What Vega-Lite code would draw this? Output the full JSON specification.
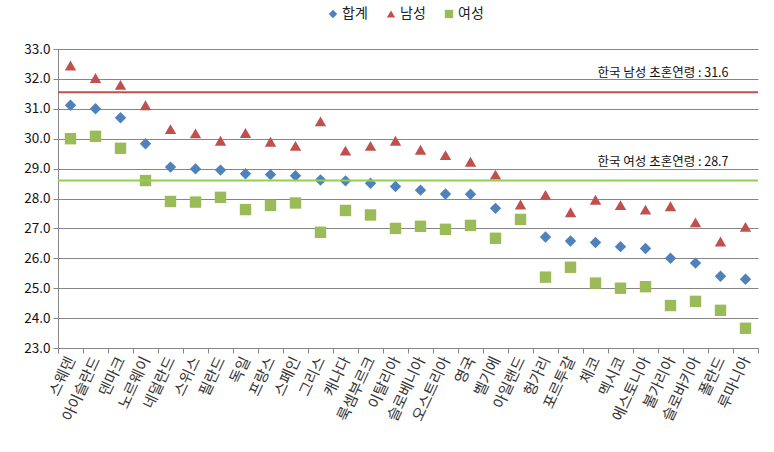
{
  "$schema": "https://vega.github.io/schema/vega-lite/v6.json",
  "width": 700,
  "height": 299,
  "autosize": "none",
  "padding": {"left": 58, "top": 49, "right": 16, "bottom": 104},
  "background": "white",
  "config": {
    "font": "Noto Sans CJK KR",
    "view": {"stroke": null},
    "axis": {"labelFont": "Noto Sans CJK KR", "labelColor": "#222", "domainColor": "#868686", "tickColor": "#868686", "gridColor": "#868686", "gridOpacity": 1}
  },
  "datasets": {
    "refs": [
      {"kind": "남성", "value": 31.55, "label": "한국 남성 초혼연령 : 31.6"},
      {"kind": "여성", "value": 28.6, "label": "한국 여성 초혼연령 : 28.7"}
    ]
  },
  "data": {"values": [
    {"country": "스웨덴", "series": "합계", "value": 31.12},
    {"country": "스웨덴", "series": "남성", "value": 32.45},
    {"country": "스웨덴", "series": "여성", "value": 30.0},
    {"country": "아이슬란드", "series": "합계", "value": 31.0},
    {"country": "아이슬란드", "series": "남성", "value": 32.03},
    {"country": "아이슬란드", "series": "여성", "value": 30.08},
    {"country": "덴마크", "series": "합계", "value": 30.7},
    {"country": "덴마크", "series": "남성", "value": 31.8},
    {"country": "덴마크", "series": "여성", "value": 29.68},
    {"country": "노르웨이", "series": "합계", "value": 29.83},
    {"country": "노르웨이", "series": "남성", "value": 31.12},
    {"country": "노르웨이", "series": "여성", "value": 28.6},
    {"country": "네덜란드", "series": "합계", "value": 29.05},
    {"country": "네덜란드", "series": "남성", "value": 30.32},
    {"country": "네덜란드", "series": "여성", "value": 27.9},
    {"country": "스위스", "series": "합계", "value": 28.99},
    {"country": "스위스", "series": "남성", "value": 30.18},
    {"country": "스위스", "series": "여성", "value": 27.88},
    {"country": "필란드", "series": "합계", "value": 28.95},
    {"country": "필란드", "series": "남성", "value": 29.93},
    {"country": "필란드", "series": "여성", "value": 28.04},
    {"country": "독일", "series": "합계", "value": 28.83},
    {"country": "독일", "series": "남성", "value": 30.19},
    {"country": "독일", "series": "여성", "value": 27.63},
    {"country": "프랑스", "series": "합계", "value": 28.8},
    {"country": "프랑스", "series": "남성", "value": 29.9},
    {"country": "프랑스", "series": "여성", "value": 27.77},
    {"country": "스페인", "series": "합계", "value": 28.76},
    {"country": "스페인", "series": "남성", "value": 29.76},
    {"country": "스페인", "series": "여성", "value": 27.85},
    {"country": "그리스", "series": "합계", "value": 28.62},
    {"country": "그리스", "series": "남성", "value": 30.58},
    {"country": "그리스", "series": "여성", "value": 26.87},
    {"country": "캐나다", "series": "합계", "value": 28.59},
    {"country": "캐나다", "series": "남성", "value": 29.6},
    {"country": "캐나다", "series": "여성", "value": 27.6},
    {"country": "룩셈부르크", "series": "합계", "value": 28.51},
    {"country": "룩셈부르크", "series": "남성", "value": 29.76},
    {"country": "룩셈부르크", "series": "여성", "value": 27.45},
    {"country": "이탈리아", "series": "합계", "value": 28.4},
    {"country": "이탈리아", "series": "남성", "value": 29.93},
    {"country": "이탈리아", "series": "여성", "value": 27.0},
    {"country": "슬로베니아", "series": "합계", "value": 28.28},
    {"country": "슬로베니아", "series": "남성", "value": 29.63},
    {"country": "슬로베니아", "series": "여성", "value": 27.07},
    {"country": "오스트리아", "series": "합계", "value": 28.15},
    {"country": "오스트리아", "series": "남성", "value": 29.45},
    {"country": "오스트리아", "series": "여성", "value": 26.97},
    {"country": "영국", "series": "합계", "value": 28.14},
    {"country": "영국", "series": "남성", "value": 29.23},
    {"country": "영국", "series": "여성", "value": 27.1},
    {"country": "벨기에", "series": "합계", "value": 27.67},
    {"country": "벨기에", "series": "남성", "value": 28.8},
    {"country": "벨기에", "series": "여성", "value": 26.67},
    {"country": "아일랜드", "series": "합계", "value": 27.3},
    {"country": "아일랜드", "series": "남성", "value": 27.8},
    {"country": "아일랜드", "series": "여성", "value": 27.3},
    {"country": "헝가리", "series": "합계", "value": 26.71},
    {"country": "헝가리", "series": "남성", "value": 28.12},
    {"country": "헝가리", "series": "여성", "value": 25.37},
    {"country": "포르투갈", "series": "합계", "value": 26.58},
    {"country": "포르투갈", "series": "남성", "value": 27.54},
    {"country": "포르투갈", "series": "여성", "value": 25.7},
    {"country": "체코", "series": "합계", "value": 26.53},
    {"country": "체코", "series": "남성", "value": 27.96},
    {"country": "체코", "series": "여성", "value": 25.17},
    {"country": "멕시코", "series": "합계", "value": 26.39},
    {"country": "멕시코", "series": "남성", "value": 27.78},
    {"country": "멕시코", "series": "여성", "value": 25.0},
    {"country": "에스토니아", "series": "합계", "value": 26.33},
    {"country": "에스토니아", "series": "남성", "value": 27.63},
    {"country": "에스토니아", "series": "여성", "value": 25.05},
    {"country": "불가리아", "series": "합계", "value": 26.0},
    {"country": "불가리아", "series": "남성", "value": 27.74},
    {"country": "불가리아", "series": "여성", "value": 24.42},
    {"country": "슬로바키아", "series": "합계", "value": 25.84},
    {"country": "슬로바키아", "series": "남성", "value": 27.2},
    {"country": "슬로바키아", "series": "여성", "value": 24.56},
    {"country": "폴란드", "series": "합계", "value": 25.4},
    {"country": "폴란드", "series": "남성", "value": 26.56},
    {"country": "폴란드", "series": "여성", "value": 24.26},
    {"country": "루마니아", "series": "합계", "value": 25.3},
    {"country": "루마니아", "series": "남성", "value": 27.05},
    {"country": "루마니아", "series": "여성", "value": 23.66}
  ]},
  "encoding": {
    "y": {
      "field": "value", "type": "quantitative", "title": null,
      "scale": {"domain": [23, 33], "nice": false, "zero": false},
      "axis": {"values": [23, 24, 25, 26, 27, 28, 29, 30, 31, 32, 33], "format": ".1f", "labelFontSize": 13.5, "tickSize": 5, "labelPadding": 3, "grid": true, "labelOverlap": false, "labelColor": "#111"}
    }
  },
  "layer": [
    {
      "mark": {"type": "point", "filled": true, "opacity": 1, "size": 130},
      "encoding": {
        "x": {
          "field": "country", "type": "nominal", "sort": null, "title": null,
          "scale": {"paddingInner": 0, "paddingOuter": 0},
          "axis": {"labelAngle": -65, "labelFontSize": 15, "tickBand": "extent", "tickSize": 5, "labelPadding": 4, "grid": false, "domainWidth": 1, "labelOverlap": false, "labelColor": "#333"}
        },
        "color": {
          "field": "series", "type": "nominal", "sort": ["합계", "남성", "여성"],
          "scale": {"domain": ["합계", "남성", "여성"], "range": ["#4F81BD", "#C0504D", "#9BBB59"]},
          "legend": {"title": null, "orient": "none", "direction": "horizontal", "legendX": 268, "legendY": -42, "labelFontSize": 14, "symbolSize": 70, "labelOffset": 2, "columnPadding": 16, "labelColor": "#222", "labelFont": "Noto Sans CJK KR"}
        },
        "shape": {
          "field": "series", "type": "nominal", "sort": ["합계", "남성", "여성"],
          "scale": {"domain": ["합계", "남성", "여성"], "range": ["diamond", "triangle-up", "square"]},
          "legend": {"title": null, "orient": "none", "direction": "horizontal", "legendX": 268, "legendY": -42, "labelFontSize": 14, "symbolSize": 70, "labelOffset": 2, "columnPadding": 16, "labelColor": "#222", "labelFont": "Noto Sans CJK KR"}
        }
      }
    },
    {
      "data": {"name": "refs"},
      "transform": [{"filter": "datum.kind === '남성'"}],
      "mark": {"type": "rule", "color": "#C0504D", "strokeWidth": 2},
      "encoding": {}
    },
    {
      "data": {"name": "refs"},
      "transform": [{"filter": "datum.kind === '여성'"}],
      "mark": {"type": "rule", "color": "#92D050", "strokeWidth": 2},
      "encoding": {}
    },
    {
      "data": {"name": "refs"},
      "mark": {"type": "text", "align": "right", "baseline": "middle", "dx": 8, "dy": -19, "fontSize": 12.5, "color": "#111", "font": "Noto Sans CJK KR"},
      "encoding": {
        "x": {"datum": "폴란드", "type": "nominal"},
        "text": {"field": "label"}
      }
    }
  ]
}
